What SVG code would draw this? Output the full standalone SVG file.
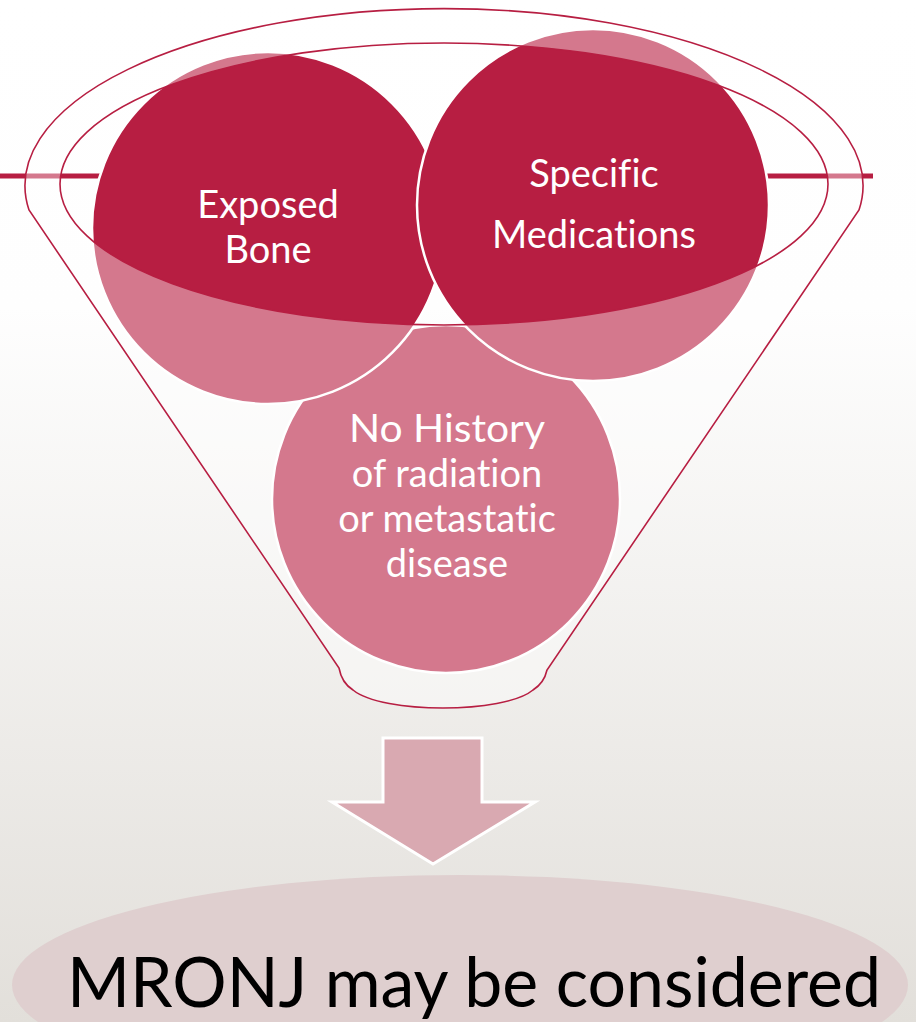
<svg xmlns="http://www.w3.org/2000/svg" width="916" height="1022" viewBox="0 0 916 1022">
  <defs>
    <linearGradient id="bg" x1="0" y1="0" x2="0" y2="1">
      <stop offset="0" stop-color="#ffffff"/>
      <stop offset="0.3" stop-color="#fefefe"/>
      <stop offset="1" stop-color="#e2dfda"/>
    </linearGradient>
    <style>
      .circ { fill: #b71e42; stroke: #ffffff; stroke-width: 2.5; }
      .rim { fill: #ffffff; fill-opacity: 0.4; fill-rule: evenodd; stroke: none; }
      .edge { fill: none; stroke: #b71e42; stroke-width: 1.6; }
      .lbl { font-family: Lato, "Open Sans", "Liberation Sans", sans-serif; font-size: 38px; fill: #ffffff; text-anchor: middle; font-variant-ligatures: none; }
      .big { font-family: Lato, "Open Sans", "Liberation Sans", sans-serif; font-size: 69px; fill: #000000; text-anchor: middle; font-variant-ligatures: none; }
    </style>
  </defs>
  <rect x="0" y="0" width="916" height="1022" fill="url(#bg)"/>

  <g id="result">
    <ellipse cx="460" cy="985" rx="448" ry="110" fill="#dfcfcf"/>
    <text class="big" x="474" y="1007" textLength="814" lengthAdjust="spacingAndGlyphs">MRONJ may be considered</text>
  </g>

  <g id="connectors">
    <path d="M383 738 L482 738 L482 802 L535 802 L433 864 L332 802 L383 802 Z" fill="#d9a9b1" stroke="#ffffff" stroke-width="3" stroke-linejoin="miter"/>
  </g>

  <g id="funnel">
    <line x1="0" y1="176" x2="873" y2="176" stroke="#b71e42" stroke-width="5"/>
    <g id="node-history">
      <circle class="circ" cx="446" cy="499" r="174"/>
    </g>
    <g id="node-bone">
      <circle class="circ" cx="268" cy="228" r="176"/>
    </g>
    <g id="node-meds">
      <circle class="circ" cx="593" cy="205" r="176"/>
    </g>
    <path class="rim" d="M29 210 A419 177 0 1 1 859 210 L547 670 C545 679 541 685 533 690 C504 714 382 714 353 690 C345 685 341 679 339 668 Z M60 184 A384 141 0 1 0 828 184 A384 141 0 1 0 60 184 Z"/>
    <path class="edge" d="M29 210 A419 177 0 1 1 859 210 L547 670 C545 679 541 685 533 690 C504 714 382 714 353 690 C345 685 341 679 339 668 Z"/>
    <ellipse class="edge" cx="444" cy="184" rx="384" ry="141"/>
  </g>

  <g id="labels">
    <text class="lbl" x="268" y="218">Exposed</text>
    <text class="lbl" x="268" y="263">Bone</text>
    <text class="lbl" x="594" y="187">Specific</text>
    <text class="lbl" x="594" y="248">Medications</text>
    <text class="lbl" x="447" y="442" textLength="196" lengthAdjust="spacingAndGlyphs">No History</text>
    <text class="lbl" x="447" y="487">of radiation</text>
    <text class="lbl" x="447" y="532">or metastatic</text>
    <text class="lbl" x="447" y="577">disease</text>
  </g>
</svg>
